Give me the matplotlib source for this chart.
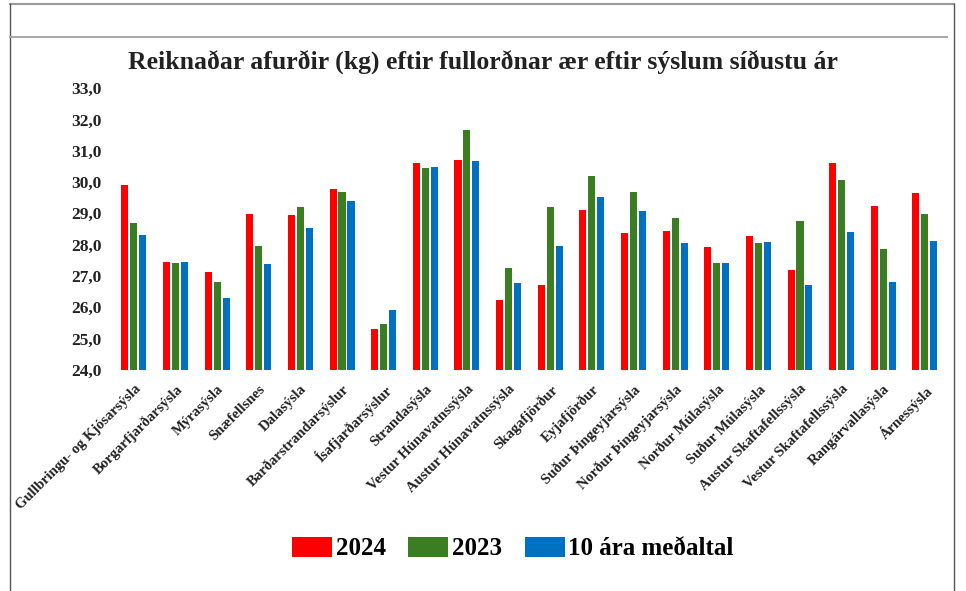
import matplotlib
matplotlib.use("Agg")
import matplotlib.pyplot as plt
from matplotlib.patches import Patch
from matplotlib.lines import Line2D
import numpy as np

categories = ["Gullbringu- og Kjósarsýsla", "Borgarfjarðarsýsla", "Mýrasýsla", "Snæfellsnes",
              "Dalasýsla", "Barðarstrandarsýslur", "Ísafjarðarsýslur", "Strandasýsla",
              "Vestur Húnavatnssýsla", "Austur Húnavatnssýsla", "Skagafjörður", "Eyjafjörður",
              "Suður Þingeyjarsýsla", "Norður Þingeyjarsýsla", "Norður Múlasýsla", "Suður Múlasýsla",
              "Austur Skaftafellssýsla", "Vestur Skaftafellssýsla", "Rangárvallasýsla", "Árnessýsla"]
v2024 = [29.9, 27.45, 27.13, 28.99, 28.95, 29.79, 25.32, 30.61, 30.70, 26.22,
         26.70, 29.11, 28.36, 28.45, 27.93, 28.27, 27.18, 30.61, 29.23, 29.66]
v2023 = [28.69, 27.40, 26.81, 27.96, 29.19, 29.68, 25.47, 30.44, 31.66, 27.27,
         29.20, 30.18, 29.68, 28.84, 27.43, 28.04, 28.74, 30.08, 27.86, 28.98]
v10 = [28.31, 27.45, 26.30, 27.38, 28.53, 29.39, 25.93, 30.48, 30.68, 26.77,
       27.95, 29.52, 29.09, 28.04, 27.43, 28.09, 26.70, 28.41, 26.81, 28.13]
series_labels = ["2024", "2023", "10 ára meðaltal"]
colors = ["#FF0000", "#3A7D22", "#0070C0"]
yticks = np.arange(24, 33.5, 1.0)

fig = plt.figure(figsize=(9.66, 5.91), dpi=100)
# frame lines
fig.add_artist(Line2D([0.010, 0.988], [0.994, 0.994], color="#999999", lw=1.5, transform=fig.transFigure))
fig.add_artist(Line2D([0.010, 0.010], [0.0, 0.994], color="#555555", lw=1.0, transform=fig.transFigure))
fig.add_artist(Line2D([0.988, 0.988], [0.0, 0.994], color="#555555", lw=1.0, transform=fig.transFigure))
fig.add_artist(Line2D([0.010, 0.980], [0.937, 0.937], color="#aaaaaa", lw=1.5, transform=fig.transFigure))

ax = fig.add_axes([0.117, 0.374, 0.862, 0.477])
x = np.arange(len(categories))
w = 0.17
step = 0.215
for i, (vals, c) in enumerate(zip([v2024, v2023, v10], colors)):
    ax.bar(x + (i - 1) * step, np.array(vals) - 24, bottom=24, width=w, color=c)

ax.set_ylim(24, 33)
ax.set_xlim(-0.5, len(categories) - 0.5)
ax.set_yticks(yticks)
ax.set_yticklabels([f"{t:.1f}".replace(".", ",") for t in yticks],
                   fontfamily="Liberation Serif", fontweight="bold", fontsize=12.5, color="#222222")
ax.set_xticks(x)
ax.set_xticklabels(categories, rotation=45, ha="right", rotation_mode="anchor",
                   fontfamily="Liberation Serif", fontweight="bold", fontsize=10.5, color="#222222")
ax.tick_params(axis="y", length=0, pad=8)
ax.tick_params(axis="x", length=0, pad=9)
for s in ax.spines.values():
    s.set_visible(False)

fig.text(0.5, 0.893, "Reiknaðar afurðir (kg) eftir fullorðnar ær eftir sýslum síðustu ár",
         ha="center", va="center", fontfamily="Liberation Serif", fontweight="bold", fontsize=18.5,
         color="#222222")

handles = [Patch(facecolor=c) for c in colors]
fig.legend(handles, series_labels, loc="center", bbox_to_anchor=(0.531, 0.072), ncol=3,
           frameon=False, prop={"family": "Liberation Serif", "weight": "bold", "size": 18},
           handlelength=1.6, handleheight=0.85, handletextpad=0.15, columnspacing=0.9)

fig.savefig("out.png", dpi=100)
